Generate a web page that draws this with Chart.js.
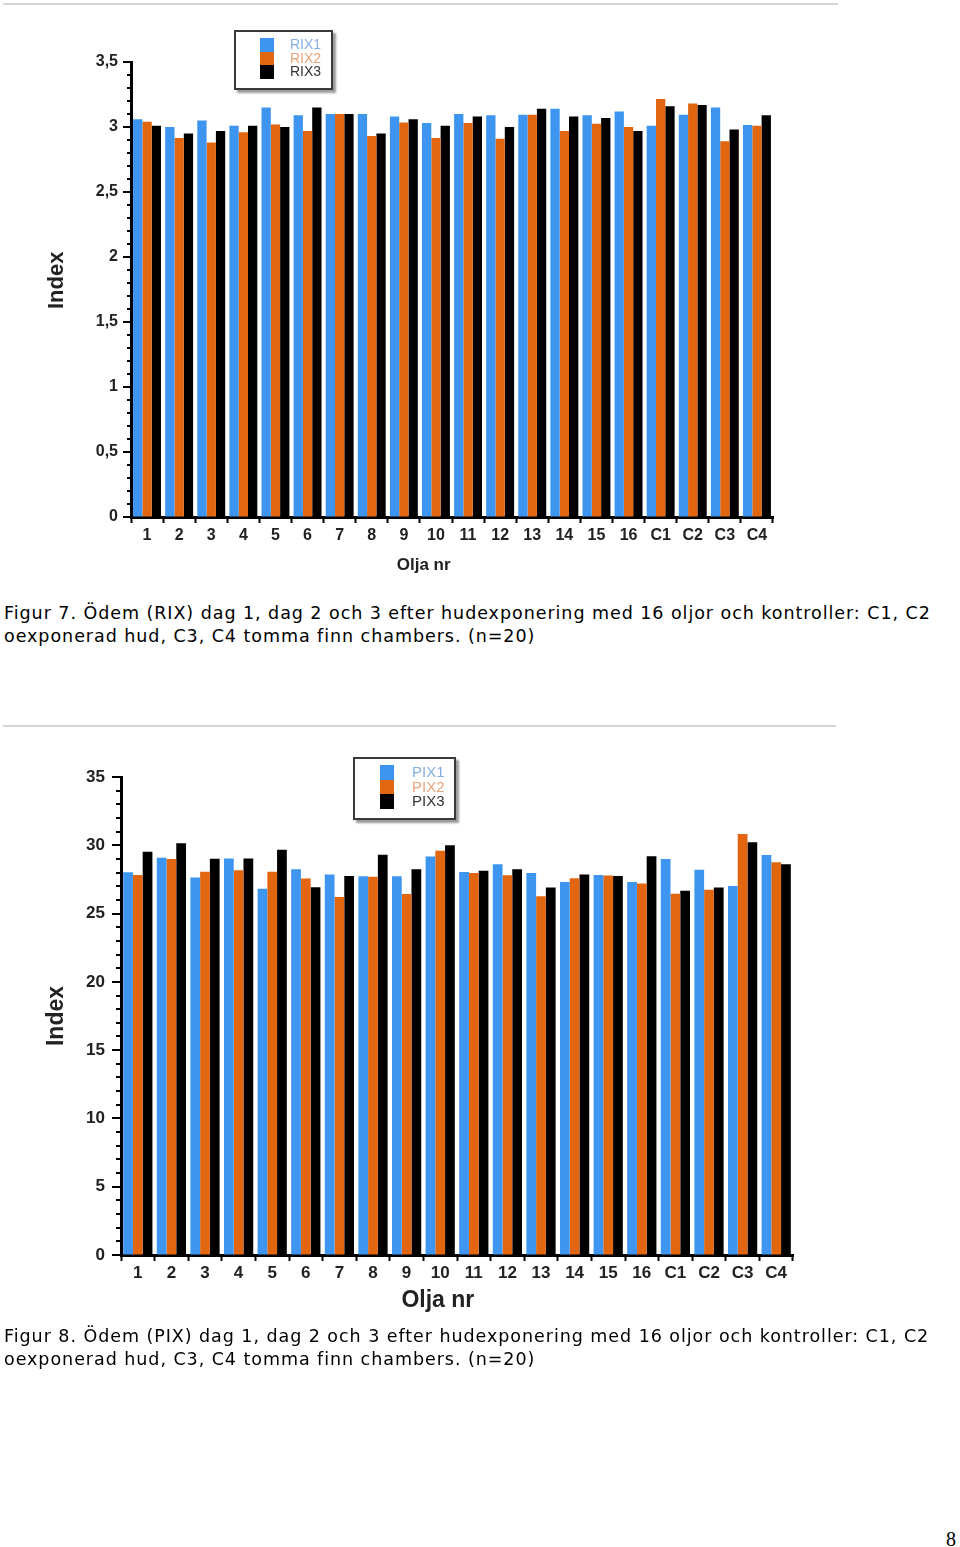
<!DOCTYPE html>
<html>
<head>
<meta charset="utf-8">
<script src="https://cdn.jsdelivr.net/npm/chart.js@4.4.1/dist/chart.umd.min.js"></script>
<style>
  html, body { margin: 0; padding: 0; background: #fff; }
  body { width: 960px; height: 1547px; position: relative; overflow: hidden; }
  .rule { position: absolute; left: 3px; height: 2px; background: #d4d4d4; }
  .wrap { position: absolute; left: 0; }
  .caption { position: absolute; left: 4px; font-family: "DejaVu Sans", Verdana, sans-serif; font-size: 17.5px; letter-spacing: 0.95px; line-height: 23px; color: #000; white-space: nowrap; }
  .legend { position: absolute; background: #fff; border: 2px solid #3a3a3a; box-shadow: 3px 3px 2px #9a9a9a; box-sizing: border-box; }
  .legend .item { position: absolute; left: 0; width: 100%; height: 14px; }
  .legend .sw { position: absolute; top: 0; width: 14px; height: 14px; }
  .legend .tx { position: absolute; top: 0; font-family: "Liberation Sans", Arial, sans-serif; line-height: 14px; }
  .pagenum { position: absolute; left: 946px; top: 1528px; font-family: "Liberation Serif", "DejaVu Serif", serif; font-size: 20px; }
</style>
</head>
<body>
<div class="rule" style="top:3px;width:835px;"></div>
<div class="wrap" style="top:0;width:800px;height:580px;"><canvas id="c1" width="800" height="580"></canvas></div>
<div class="legend" id="lg1" style="left:234px;top:30px;width:99px;height:60px;"></div>
<div class="caption" style="top:602px;">Figur 7. Ödem (RIX) dag 1, dag 2 och 3 efter hudexponering med 16 oljor och kontroller: C1, C2<br>oexponerad hud, C3, C4 tomma finn chambers. (n=20)</div>

<div class="rule" style="top:725px;width:833px;"></div>
<div class="wrap" style="top:730px;width:820px;height:600px;"><canvas id="c2" width="820" height="600"></canvas></div>
<div class="legend" id="lg2" style="left:353px;top:757px;width:103px;height:63px;"></div>
<div class="caption" style="top:1325px;">Figur 8. Ödem (PIX) dag 1, dag 2 och 3 efter hudexponering med 16 oljor och kontroller: C1, C2<br>oexponerad hud, C3, C4 tomma finn chambers. (n=20)</div>

<div class="pagenum">8</div>

<script>
const categories = ['1','2','3','4','5','6','7','8','9','10','11','12','13','14','15','16','C1','C2','C3','C4'];

const rix1 = [3.06,3.00,3.05,3.01,3.15,3.09,3.10,3.10,3.08,3.03,3.10,3.09,3.095,3.14,3.09,3.12,3.01,3.095,3.15,3.015];
const rix2 = [3.04,2.915,2.88,2.96,3.02,2.97,3.10,2.93,3.035,2.915,3.03,2.91,3.095,2.97,3.025,3.00,3.215,3.18,2.89,3.01];
const rix3 = [3.01,2.95,2.97,3.01,3.00,3.15,3.10,2.95,3.06,3.01,3.08,3.00,3.14,3.08,3.07,2.97,3.16,3.17,2.98,3.09];

const pix1 = [28.02,29.09,27.65,29.04,26.82,28.24,27.87,27.73,27.73,29.17,28.04,28.61,27.97,27.31,27.82,27.31,29.00,28.21,27.02,29.29];
const pix2 = [27.82,29.00,28.07,28.17,28.07,27.56,26.21,27.70,26.43,29.60,27.97,27.80,26.26,27.58,27.78,27.21,26.46,26.75,30.83,28.75];
const pix3 = [29.53,30.14,29.02,29.04,29.68,26.92,27.75,29.31,28.24,30.00,28.14,28.24,26.90,27.87,27.75,29.19,26.68,26.90,30.22,28.61];

const seriesLabels1 = ['RIX1','RIX2','RIX3'];
const seriesLabels2 = ['PIX1','PIX2','PIX3'];
const yTicks1 = { min: 0, max: 3.5, major: 0.5, minor: 0.1 };
const yTicks2 = { min: 0, max: 35, major: 5, minor: 1 };

const barColors = ['#3d95ef', '#e2660f', '#000000'];
const legendTextColors = ['#86aee0', '#e9a47c', '#333333'];

// Draws major/minor ticks on the y axis using the scale itself
const yTickPlugin = {
  id: 'yMinorTicks',
  afterDraw(chart, args, opts) {
    const s = chart.scales.y;
    const ctx = chart.ctx;
    const t = opts.spec;
    const n = Math.round((t.max - t.min) / t.minor);
    const ratio = Math.round(t.major / t.minor);
    ctx.save();
    ctx.strokeStyle = '#000';
    ctx.lineWidth = 2;
    for (let i = 0; i <= n; i++) {
      const v = t.min + i * t.minor;
      const py = Math.round(s.getPixelForValue(v));
      const len = (i % ratio === 0) ? opts.majorLen : opts.minorLen;
      ctx.beginPath();
      ctx.moveTo(s.right, py);
      ctx.lineTo(s.right - len, py);
      ctx.stroke();
    }
    ctx.restore();
  }
};

function makeChart(id, labels, series, names, spec, cfg) {
  const ctx = document.getElementById(id).getContext('2d');
  return new Chart(ctx, {
    type: 'bar',
    data: {
      labels: labels,
      datasets: series.map((d, i) => ({
        label: names[i],
        data: d,
        backgroundColor: barColors[i],
        borderWidth: 0,
        categoryPercentage: 0.87,
        barPercentage: 1.0
      }))
    },
    options: {
      responsive: false,
      animation: false,
      devicePixelRatio: 1,
      layout: { padding: { top: cfg.padTop, right: cfg.padRight, bottom: 0, left: 0 } },
      plugins: {
        legend: { display: false },
        tooltip: { enabled: false },
        yMinorTicks: { spec: spec, majorLen: cfg.majorLen, minorLen: cfg.minorLen }
      },
      scales: {
        x: {
          z: 1,
          grid: { display: true, offset: true, drawOnChartArea: false, drawTicks: true, tickLength: 6, tickWidth: 2, tickColor: '#000' },
          border: { display: true, color: '#000', width: 3 },
          ticks: { color: '#222', font: { family: 'Liberation Sans', size: cfg.xFont, weight: 'bold' }, padding: cfg.xPad, maxRotation: 0, autoSkip: false },
          title: { display: true, text: cfg.xTitle, color: '#222', font: { family: 'Liberation Sans', size: cfg.xTitleFont, weight: 'bold' }, padding: { top: 0, bottom: cfg.xTitlePadBottom } },
          afterFit(scale) { scale.height = cfg.xHeight; }
        },
        y: {
          z: 1,
          min: spec.min,
          max: spec.max,
          grid: { display: true, drawOnChartArea: false, drawTicks: true, tickLength: cfg.majorLen, tickColor: 'rgba(0,0,0,0)' },
          border: { display: true, color: '#000', width: 3 },
          ticks: {
            stepSize: spec.major,
            color: '#222',
            padding: cfg.yPad,
            font: { family: 'Liberation Sans', size: cfg.yFont, weight: 'bold' },
            callback: (v) => String(v).replace('.', ',')
          },
          title: { display: true, text: cfg.yTitle, color: '#222', font: { family: 'Liberation Sans', size: cfg.yTitleFont, weight: 'bold' }, padding: { top: cfg.yTitlePadTop, bottom: 0 } },
          afterFit(scale) { scale.width = cfg.yWidth; }
        }
      }
    },
    plugins: [yTickPlugin]
  });
}

function buildLegend(chart, elId, cfg) {
  const el = document.getElementById(elId);
  chart.data.datasets.forEach((ds, i) => {
    const item = document.createElement('div');
    item.className = 'item';
    item.style.top = (cfg.top + i * cfg.step) + 'px';
    item.style.height = cfg.step + 'px';
    const sw = document.createElement('div');
    sw.className = 'sw';
    sw.style.left = cfg.swLeft + 'px';
    sw.style.height = cfg.step + 'px';
    sw.style.background = ds.backgroundColor;
    const tx = document.createElement('div');
    tx.className = 'tx';
    tx.style.left = cfg.txLeft + 'px';
    tx.style.fontSize = cfg.font + 'px';
    tx.style.lineHeight = cfg.step + 'px';
    tx.style.color = legendTextColors[i];
    tx.textContent = ds.label;
    item.appendChild(sw);
    item.appendChild(tx);
    el.appendChild(item);
  });
}

function init() {
  const chart1 = makeChart('c1', categories, [rix1, rix2, rix3], seriesLabels1, yTicks1, {
    padTop: 62, padRight: 27, yWidth: 131, xHeight: 63,
    majorLen: 8, minorLen: 4, yPad: 5, yFont: 16, xFont: 16, xPad: 3,
    xTitle: 'Olja nr            ', xTitleFont: 17, xTitlePadBottom: 4,
    yTitle: '   Index', yTitleFont: 22, yTitlePadTop: 44
  });
  const chart2 = makeChart('c2', categories, [pix1, pix2, pix3], seriesLabels2, yTicks2, {
    padTop: 47, padRight: 27, yWidth: 121, xHeight: 75,
    majorLen: 9, minorLen: 5, yPad: 7, yFont: 17, xFont: 17, xPad: 2,
    xTitle: 'Olja nr      ', xTitleFont: 23, xTitlePadBottom: 16,
    yTitle: 'Index', yTitleFont: 23, yTitlePadTop: 43
  });
  buildLegend(chart1, 'lg1', { top: 6, step: 13.5, swLeft: 24, txLeft: 54, font: 14 });
  buildLegend(chart2, 'lg2', { top: 6, step: 14.5, swLeft: 25, txLeft: 57, font: 15 });
}

Promise.all([
  document.fonts.load('bold 16px "Liberation Sans"'),
  document.fonts.load('16px "Liberation Sans"'),
  document.fonts.load('17px "DejaVu Sans"')
]).then(init, init);
</script>
</body>
</html>
